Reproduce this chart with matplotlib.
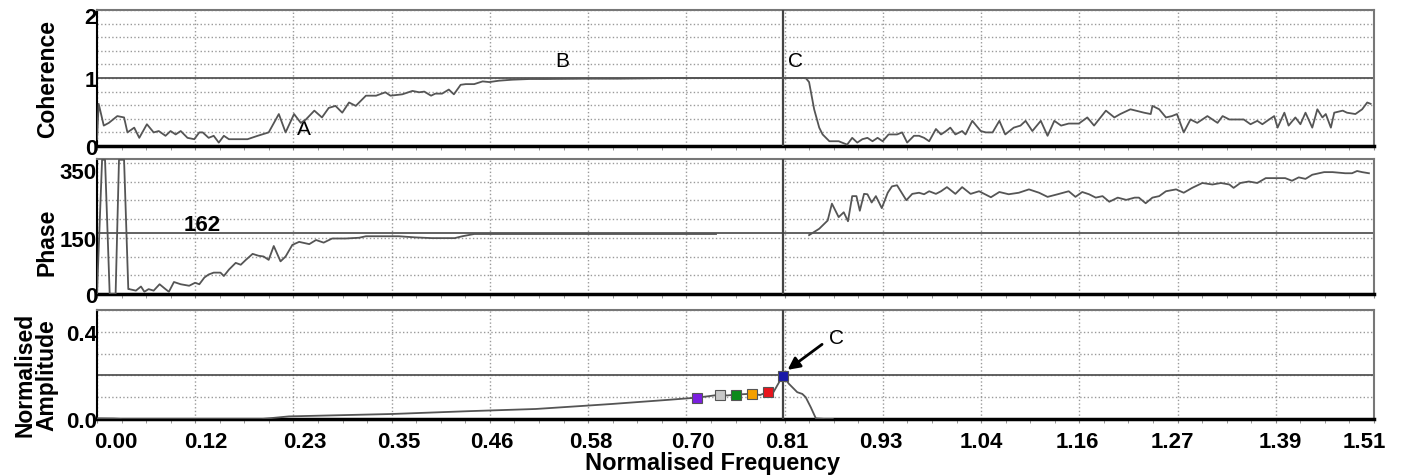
import numpy as np
import matplotlib
matplotlib.use("Agg")
import matplotlib.pyplot as plt
import matplotlib.transforms as mtransforms
from matplotlib.ticker import MultipleLocator, FixedLocator

plt.rcParams["font.family"] = ["Liberation Sans", "DejaVu Sans"]

# ---------------------------------------------------------------------------
# Data

freq_tick_labels = ["0.00", "0.12", "0.23", "0.35", "0.46", "0.58", "0.70",
                    "0.81", "0.93", "1.04", "1.16", "1.27", "1.39", "1.51"]
freq_max = 1.51
peak_freq = 0.811

coh_freq = [0.000, 0.002, 0.008, 0.014, 0.024, 0.032, 0.036, 0.044, 0.050, 0.059,
            0.067, 0.073, 0.081, 0.087, 0.093, 0.099, 0.107, 0.115, 0.121, 0.125,
            0.132, 0.138, 0.144, 0.150, 0.156, 0.168, 0.178, 0.190, 0.203, 0.215,
            0.223, 0.233, 0.241, 0.247, 0.257, 0.266, 0.274, 0.282, 0.290, 0.298,
            0.306, 0.318, 0.330, 0.341, 0.347, 0.361, 0.373, 0.381, 0.387, 0.395,
            0.400, 0.408, 0.416, 0.422, 0.430, 0.436, 0.446, 0.456, 0.464, 0.475,
            0.491, 0.511, 0.531, 0.578, 0.617, 0.684, 0.838, 0.842, 0.848, 0.854,
            0.858, 0.866, 0.877, 0.887, 0.893, 0.899, 0.905, 0.911, 0.917, 0.923,
            0.929, 0.936, 0.946, 0.952, 0.958, 0.966, 0.972, 0.978, 0.984, 0.992,
            0.998, 1.004, 1.009, 1.015, 1.023, 1.027, 1.035, 1.045, 1.051, 1.059,
            1.067, 1.074, 1.084, 1.092, 1.098, 1.106, 1.116, 1.124, 1.132, 1.140,
            1.149, 1.161, 1.171, 1.179, 1.193, 1.203, 1.210, 1.222, 1.238, 1.246,
            1.248, 1.256, 1.264, 1.271, 1.277, 1.285, 1.293, 1.301, 1.313, 1.325,
            1.331, 1.339, 1.346, 1.356, 1.364, 1.372, 1.378, 1.386, 1.392, 1.396,
            1.404, 1.409, 1.417, 1.423, 1.429, 1.437, 1.443, 1.449, 1.453, 1.459,
            1.463, 1.473, 1.478, 1.488, 1.496, 1.502, 1.506]
coh_vals = [0.10, 0.62, 0.30, 0.34, 0.44, 0.42, 0.20, 0.27, 0.12, 0.32,
            0.20, 0.22, 0.15, 0.22, 0.17, 0.22, 0.12, 0.10, 0.20, 0.20,
            0.12, 0.15, 0.05, 0.15, 0.10, 0.10, 0.10, 0.15, 0.20, 0.47,
            0.20, 0.47, 0.34, 0.39, 0.52, 0.42, 0.56, 0.59, 0.49, 0.64,
            0.59, 0.74, 0.74, 0.79, 0.74, 0.76, 0.81, 0.79, 0.80, 0.74,
            0.77, 0.77, 0.83, 0.76, 0.90, 0.91, 0.91, 0.95, 0.94, 0.96,
            0.975, 0.985, 0.985, 0.99, 0.99, 1.00, 1.00, 0.94, 0.54, 0.27,
            0.17, 0.07, 0.07, 0.02, 0.12, 0.05, 0.10, 0.12, 0.07, 0.12,
            0.07, 0.17, 0.17, 0.20, 0.05, 0.15, 0.15, 0.12, 0.07, 0.25,
            0.17, 0.22, 0.27, 0.17, 0.22, 0.17, 0.37, 0.22, 0.20, 0.20,
            0.37, 0.17, 0.27, 0.30, 0.37, 0.22, 0.37, 0.15, 0.37, 0.30,
            0.33, 0.33, 0.42, 0.30, 0.52, 0.42, 0.47, 0.54, 0.49, 0.47,
            0.59, 0.54, 0.42, 0.44, 0.47, 0.20, 0.39, 0.34, 0.44, 0.34,
            0.44, 0.39, 0.39, 0.39, 0.32, 0.37, 0.32, 0.39, 0.44, 0.27,
            0.49, 0.30, 0.42, 0.32, 0.49, 0.27, 0.54, 0.42, 0.47, 0.27,
            0.49, 0.52, 0.49, 0.47, 0.54, 0.64, 0.62]

phase_freq = [0.000, 0.006, 0.0095, 0.015, 0.022, 0.026, 0.032, 0.037, 0.038, 0.046,
              0.052, 0.056, 0.061, 0.067, 0.074, 0.081, 0.085, 0.091, 0.099, 0.109,
              0.116, 0.121, 0.127, 0.132, 0.138, 0.146, 0.150, 0.156, 0.164, 0.170,
              0.176, 0.184, 0.191, 0.197, 0.203, 0.209, 0.217, 0.223, 0.231, 0.239,
              0.251, 0.259, 0.268, 0.278, 0.294, 0.310, 0.318, 0.357, 0.376, 0.396,
              0.423, 0.432, 0.446, 0.732, 0.780, 0.842, 0.854, 0.864, 0.869, 0.877,
              0.883, 0.888, 0.893, 0.898, 0.902, 0.907, 0.911, 0.916, 0.921, 0.928,
              0.935, 0.940, 0.946, 0.957, 0.964, 0.972, 0.978, 0.984, 0.992, 0.998,
              1.005, 1.015, 1.023, 1.033, 1.043, 1.057, 1.067, 1.078, 1.090, 1.102,
              1.114, 1.124, 1.136, 1.149, 1.157, 1.165, 1.173, 1.181, 1.189, 1.197,
              1.207, 1.217, 1.227, 1.232, 1.240, 1.248, 1.256, 1.264, 1.276, 1.285,
              1.295, 1.307, 1.319, 1.329, 1.339, 1.344, 1.352, 1.362, 1.372, 1.382,
              1.394, 1.405, 1.413, 1.421, 1.429, 1.437, 1.451, 1.461, 1.476, 1.484,
              1.490, 1.496, 1.504]
phase_vals = [0, 358, 358, 0, 0, 358, 358, 13, 13, 9,
              20, 6, 13, 9, 26, 13, 6, 32, 26, 22,
              30, 26, 44, 52, 57, 57, 48, 65, 83, 78,
              91, 107, 102, 100, 91, 128, 87, 100, 131, 139,
              133, 144, 137, 148, 148, 150, 154, 154, 151, 149,
              149, 154, 160, 160, np.nan, 157, 174, 196, 241, 205,
              218, 194, 261, 261, 222, 267, 266, 244, 261, 229,
              270, 287, 290, 250, 267, 270, 266, 274, 267, 274,
              285, 267, 285, 267, 274, 258, 272, 266, 270, 279,
              270, 259, 266, 274, 259, 272, 266, 257, 261, 246,
              257, 251, 257, 257, 242, 257, 261, 274, 279, 270,
              283, 296, 292, 296, 292, 283, 296, 300, 296, 309,
              309, 309, 302, 311, 307, 318, 325, 325, 322, 322,
              328, 325, 322]

amp_freq = [0.000, 0.020, 0.030, 0.195, 0.227, 0.349, 0.440, 0.519, 0.582, 0.609,
            0.637, 0.676, 0.709, 0.722, 0.737, 0.745, 0.756, 0.775, 0.784, 0.793,
            0.800, 0.811, 0.818, 0.828, 0.834, 0.838, 0.844, 0.850, 0.861, 0.870]
amp_vals = [0.003, 0.002, 0.0, 0.0, 0.012, 0.023, 0.036, 0.046, 0.062, 0.069,
            0.077, 0.088, 0.098, 0.104, 0.112, 0.108, 0.112, 0.116, 0.110, 0.124,
            0.124, 0.199, 0.162, 0.123, 0.115, 0.100, 0.054, 0.003, 0.0, 0.0]

marker_freq = [0.709, 0.737, 0.756, 0.775, 0.793, 0.811]
marker_vals = [0.098, 0.112, 0.112, 0.116, 0.124, 0.199]
marker_colors = ["#7b1fe0", "#c8c8c8", "#0d8a1a", "#f5a000", "#e8141c", "#1a1aa8"]

coh_ref, phase_ref, amp_ref = 1.0, 162, 0.2

# ---------------------------------------------------------------------------
# Layout

W, H = 1406, 477
fig = plt.figure(figsize=(W / 100, H / 100), dpi=100)

def px_axes(top, bottom, left=97, right=1374):
    return fig.add_axes([left / W, 1 - bottom / H, (right - left) / W, (bottom - top) / H])

ax_coh = px_axes(11, 147)
ax_ph = px_axes(160, 295)
ax_amp = px_axes(311, 420)

line_col = "#555555"
grid_col = "#9a9a9a"
ref_col = "#555555"
xticks = np.linspace(0, freq_max, len(freq_tick_labels))

def shift(label, dx_px, dy_px):
    label.set_transform(label.get_transform() +
                        mtransforms.Affine2D().translate(dx_px, dy_px))

def style(ax, ylim, yticks, yticklabels, ygrid):
    ax.set_xlim(0, freq_max)
    ax.set_ylim(*ylim)
    ax.xaxis.set_major_locator(FixedLocator(xticks))
    ax.xaxis.set_minor_locator(MultipleLocator(freq_max / 13 / 4))
    ax.set_yticks(yticks)
    ax.set_yticklabels(yticklabels, fontsize=16, fontweight="bold")
    ax.yaxis.set_minor_locator(MultipleLocator(ygrid))
    ax.grid(True, which="major", axis="x", color=grid_col, linestyle=":", linewidth=1)
    ax.grid(True, which="both", axis="y", color=grid_col, linestyle=":", linewidth=1)
    ax.tick_params(axis="y", which="both", length=0, pad=0)
    ax.tick_params(axis="x", which="both", direction="out", length=3, color="#888888")
    ax.set_xticklabels([])
    ax.spines["bottom"].set_linewidth(2.5)
    ax.spines["bottom"].set_color("black")
    ax.spines["left"].set_linewidth(1.5)
    ax.spines["left"].set_color("black")
    for s in ("top", "right"):
        ax.spines[s].set_linewidth(1.5)
        ax.spines[s].set_color("#777777")
    ax.axvline(peak_freq, color="#444444", linewidth=1.6, zorder=3)
    ax.set_axisbelow(True)

# Coherence
style(ax_coh, (0, 2), [0, 1, 2], ["0", "1", "2"], 0.2)
ax_coh.axhline(coh_ref, color=ref_col, linewidth=1.3)
ax_coh.plot(coh_freq, coh_vals, color=line_col, linewidth=1.3, zorder=4)
ax_coh.set_ylabel("Coherence", fontsize=16.5, fontweight="bold")
ax_coh.yaxis.set_label_coords(-0.030, 0.5)
ax_coh.text(0.245, 0.25, "A", fontsize=15, ha="center", va="center")
ax_coh.text(0.550, 1.26, "B", fontsize=15, ha="center", va="center")
ax_coh.text(0.826, 1.26, "C", fontsize=15, ha="center", va="center")

# Phase
style(ax_ph, (0, 360), [0, 150, 350], ["0", "150", "350"], 50)
ax_ph.axhline(phase_ref, color=ref_col, linewidth=1.3)
ax_ph.plot(phase_freq, phase_vals, color=line_col, linewidth=1.3, zorder=4)
ax_ph.set_ylabel("Phase", fontsize=16.5, fontweight="bold")
ax_ph.yaxis.set_label_coords(-0.030, 0.39)
ax_ph.text(0.124, 185, "162", fontsize=16, fontweight="bold", ha="center", va="center")

# Amplitude
style(ax_amp, (0, 0.5), [0.0, 0.4], ["0.0", "0.4"], 0.1)
ax_amp.axhline(amp_ref, color=ref_col, linewidth=1.3)
ax_amp.plot(amp_freq, amp_vals, color=line_col, linewidth=1.3, zorder=4)
for f, v, c in zip(marker_freq, marker_vals, marker_colors):
    ax_amp.plot(f, v, marker="s", markersize=6.5, markerfacecolor=c,
                markeredgecolor="#555555", markeredgewidth=0.8, zorder=5)
ax_amp.annotate("", xy=(0.814, 0.218), xytext=(0.860, 0.35),
                arrowprops=dict(arrowstyle="-|>", color="black", lw=2, mutation_scale=18),
                zorder=6)
ax_amp.text(0.874, 0.372, "C", fontsize=15, ha="center", va="center")
ax_amp.set_xticklabels(freq_tick_labels, fontsize=16, fontweight="bold")
ax_amp.tick_params(axis="x", which="major", pad=6)
ax_amp.set_ylabel("Normalised\nAmplitude", fontsize=16.5, fontweight="bold", linespacing=0.95)
ax_amp.yaxis.set_label_coords(-0.030, 0.41)
ax_amp.set_xlabel("Normalised Frequency", fontsize=17, fontweight="bold")
ax_amp.xaxis.set_label_coords(0.482, -0.29)

# nudge tick labels the way the reference places them
x_offsets = [19, 11, 11, 7, 2, 3, 6, 2, -2, 0, -2, -5, 5, -10]
for lab, dx in zip(ax_amp.get_xticklabels(), x_offsets):
    shift(lab, dx, 0)
shift(ax_coh.get_yticklabels()[2], 0, -5)
shift(ax_ph.get_yticklabels()[2], 0, -7)

fig.savefig("out.png", dpi=100)
